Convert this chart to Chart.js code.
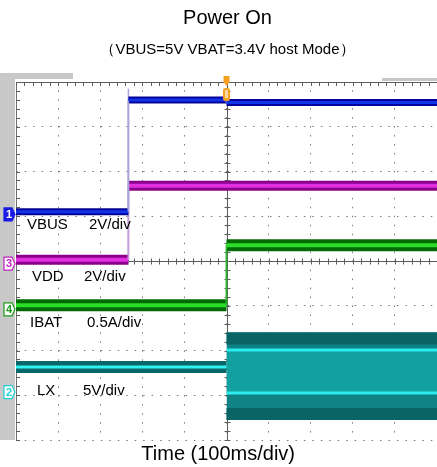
<!DOCTYPE html>
<html>
<head>
<meta charset="utf-8">
<script src="https://cdn.jsdelivr.net/npm/chart.js@4.4.0/dist/chart.umd.min.js"></script>
<style>
  html, body { margin: 0; padding: 0; background: #fff; overflow: hidden; }
  #scope { display: block; }
</style>
</head>
<body>
<canvas id="scope" width="437" height="467"></canvas>
<script>
const FONT = "'Liberation Sans', Arial, sans-serif";

// time in divisions (100ms/div), levels in divisions from the bottom of the screen
const vbusX = [0, 2.67, 2.67, 5, 5, 10];
const vbus = [5.10, 5.10, 7.60, 7.60, 7.54, 7.54];
const vddX = [0, 2.67, 2.67, 10];
const vdd = [4.03, 4.03, 5.68, 5.68];
const ibatX = [0, 5, 5, 10];
const ibat = [3.01, 3.01, 4.35, 4.35];
const lxBeforeX = [0, 5];
const lxBefore = [1.63, 1.63];
const lxAfterX = [5, 10];
const lxTop = [2.41, 2.41];
const lxBottom = [0.45, 0.45];
const lxUpperEdge = [2.27, 2.27];
const lxLowerEdge = [0.58, 0.58];
const lxPeakHigh = [2.01, 2.01];
const lxPeakLow = [1.05, 1.05];
const edgeX = [2.67, 2.67];
const edgeY = [7.85, 3.95];

// channel ground markers (ch1..ch4) and the on-screen labels
const chNumbers = ['1', '2', '3', '4'];
const chLevels = [5.04, 1.07, 3.94, 2.92];
const chColors = ['#1a1ae6', '#22d0d8', '#c020c0', '#1a9a1a'];
const labelNames = ['VBUS', 'VDD', 'IBAT', 'LX'];
const labelScales = ['2V/div', '2V/div', '0.5A/div', '5V/div'];

function pts(xs, ys) {
    return xs.map((x, i) => ({x: x, y: ys[i]}));
}

function isVertical(c) {
    return c.p0.parsed.x === c.p1.parsed.x;
}

function trace(xs, ys, color, width, edgeColor) {
    return {
        data: pts(xs, ys),
        borderColor: color,
        borderWidth: width,
        pointRadius: 0,
        fill: false,
        segment: {
            borderWidth: c => isVertical(c) ? 1.5 : width,
            borderColor: c => isVertical(c) ? edgeColor : color
        }
    };
}

function band(xs, ys, color, fillTo) {
    return {
        data: pts(xs, ys),
        borderWidth: 0,
        borderColor: color,
        backgroundColor: color,
        pointRadius: 0,
        fill: fillTo
    };
}

// small plugin for the scope screen: center cross, edge ticks, markers, labels
const scopeDecor = {
    id: 'scopeDecor',
    beforeDatasetsDraw(chart) {
        const ctx = chart.ctx, a = chart.chartArea;
        const x = chart.scales.x, y = chart.scales.y;
        ctx.save();
        ctx.fillStyle = '#c8c8c8';
        ctx.fillRect(0, a.top - 7, 15, a.bottom - a.top + 7);
        ctx.fillRect(0, a.top - 9, 73, 6);
        ctx.fillRect(382, a.top - 4, 55, 3);

        const cy = Math.round(y.getPixelForValue(4)) + 0.5;
        const cx = Math.round(x.getPixelForValue(5)) + 0.5;
        ctx.strokeStyle = '#5c5c5c';
        ctx.lineWidth = 1;
        ctx.beginPath();
        ctx.moveTo(a.left, cy); ctx.lineTo(a.right, cy);
        ctx.moveTo(cx, a.top); ctx.lineTo(cx, a.bottom);
        ctx.moveTo(a.left, a.top + 0.5); ctx.lineTo(a.right, a.top + 0.5);
        for (let i = 0; i <= 50; i++) {
            let px = Math.round(x.getPixelForValue(i * 0.2)) + 0.5;
            ctx.moveTo(px, cy - 3); ctx.lineTo(px, cy + 3);
            ctx.moveTo(px, a.top); ctx.lineTo(px, a.top + 4);
        }
        for (let j = 0; j <= 40; j++) {
            let py = Math.round(y.getPixelForValue(j * 0.2)) + 0.5;
            ctx.moveTo(cx - 3, py); ctx.lineTo(cx + 3, py);
            ctx.moveTo(a.left, py); ctx.lineTo(a.left + 4, py);
        }
        ctx.stroke();
        ctx.restore();
    },
    afterDatasetsDraw(chart) {
        const ctx = chart.ctx, a = chart.chartArea;
        const x = chart.scales.x, y = chart.scales.y;
        ctx.save();

        // channel labels
        const labelPos = [[27, 89, 225], [32, 84, 277], [30, 87, 323], [37, 83, 391]];
        ctx.fillStyle = '#000';
        ctx.font = '15px ' + FONT;
        ctx.textBaseline = 'middle';
        for (let i in labelNames) {
            ctx.fillText(labelNames[i], labelPos[i][0], labelPos[i][2]);
            ctx.fillText(labelScales[i], labelPos[i][1], labelPos[i][2]);
        }

        // ground markers on the left edge
        ctx.font = 'bold 11px ' + FONT;
        ctx.textAlign = 'center';
        for (let i in chNumbers) {
            let py = y.getPixelForValue(chLevels[i]);
            ctx.beginPath();
            ctx.moveTo(4, py - 6.5);
            ctx.lineTo(12, py - 6.5);
            ctx.lineTo(15, py);
            ctx.lineTo(12, py + 6.5);
            ctx.lineTo(4, py + 6.5);
            ctx.closePath();
            ctx.lineWidth = 1.2;
            ctx.strokeStyle = chColors[i];
            ctx.fillStyle = i == 0 ? chColors[i] : '#fff';
            ctx.fill();
            ctx.stroke();
            ctx.fillStyle = i == 0 ? '#fff' : chColors[i];
            ctx.fillText(chNumbers[i], 9, py + 0.5);
        }

        // trigger marker
        let tx = x.getPixelForValue(5);
        ctx.fillStyle = '#f5a020';
        ctx.beginPath();
        ctx.moveTo(tx - 3, a.top - 6);
        ctx.lineTo(tx + 3, a.top - 6);
        ctx.lineTo(tx + 3, a.top);
        ctx.lineTo(tx, a.top + 4);
        ctx.lineTo(tx - 3, a.top);
        ctx.closePath();
        ctx.fill();
        ctx.beginPath();
        ctx.roundRect(tx - 3.5, a.top + 6, 7, 13, 2.5);
        ctx.fill();
        ctx.fillStyle = '#fbd9a0';
        ctx.fillRect(tx - 1.5, a.top + 8, 3, 8);
        ctx.restore();
    }
};

var ctx = document.getElementById('scope').getContext('2d');
var chart = new Chart(ctx, {
    type: 'line',
    data: {
        datasets: [
            trace(vbusX, vbus, '#1234e8', 3, '#a8a4d8'),
            trace(vbusX, vbus, '#04049a', 7, '#a8a4d8'),
            trace(vddX, vdd, '#e030e0', 4, '#c8a0d8'),
            trace(vddX, vdd, '#8a008a', 10, '#c8a0d8'),
            trace(ibatX, ibat, '#2ade2a', 4, '#30b030'),
            trace(ibatX, ibat, '#046a04', 12, '#30b030'),
            trace(lxBeforeX, lxBefore, '#30f2f2', 3, '#20b0b0'),
            trace(lxBeforeX, lxBefore, '#086868', 12, '#20b0b0'),
            trace(lxAfterX, lxPeakHigh, '#2aeeee', 3, '#2aeeee'),
            trace(lxAfterX, lxPeakLow, '#2aeeee', 3, '#2aeeee'),
            band(lxAfterX, lxPeakHigh, '#12a0a0', '+1'),
            band(lxAfterX, lxPeakLow, '#12a0a0', false),
            trace(lxAfterX, lxUpperEdge, '#0a6466', 12, '#0a6466'),
            trace(lxAfterX, lxLowerEdge, '#0a6466', 12, '#0a6466'),
            band(lxAfterX, lxTop, '#0e8284', '+1'),
            band(lxAfterX, lxBottom, '#0e8284', false),
            trace(edgeX, edgeY, '#a8a4d8', 2, '#a8a4d8')
        ]
    },
    options: {
        responsive: false,
        animation: false,
        events: [],
        layout: { padding: { left: 16, right: -2, top: 0, bottom: 0 } },
        elements: { line: { tension: 0 } },
        plugins: {
            legend: { display: false },
            tooltip: { enabled: false },
            title: {
                display: true,
                text: 'Power On',
                color: '#000',
                font: { family: FONT, size: 20, weight: 'normal' },
                padding: { top: 6, bottom: 0 }
            },
            subtitle: {
                display: true,
                text: '（VBUS=5V VBAT=3.4V host Mode）',
                color: '#000',
                font: { family: FONT, size: 15 },
                padding: { top: 11, bottom: 23 }
            }
        },
        scales: {
            x: {
                type: 'linear',
                min: 0,
                max: 10,
                ticks: { display: false, stepSize: 1 },
                grid: { color: '#7a7a7a', drawTicks: false },
                border: { display: false, dash: [1.5, 7.47], dashOffset: 0.75 },
                title: {
                    display: true,
                    text: 'Time (100ms/div)\u00a0\u00a0\u00a0',
                    color: '#000',
                    font: { family: FONT, size: 20 },
                    padding: { top: 2, bottom: 1 }
                }
            },
            y: {
                min: 0,
                max: 8,
                ticks: { display: false, stepSize: 1 },
                grid: { color: '#7a7a7a', drawTicks: false },
                border: { display: true, color: '#707070', dash: [1.5, 6.96], dashOffset: 0.75 }
            }
        }
    },
    plugins: [scopeDecor]
});
</script>
</body>
</html>
